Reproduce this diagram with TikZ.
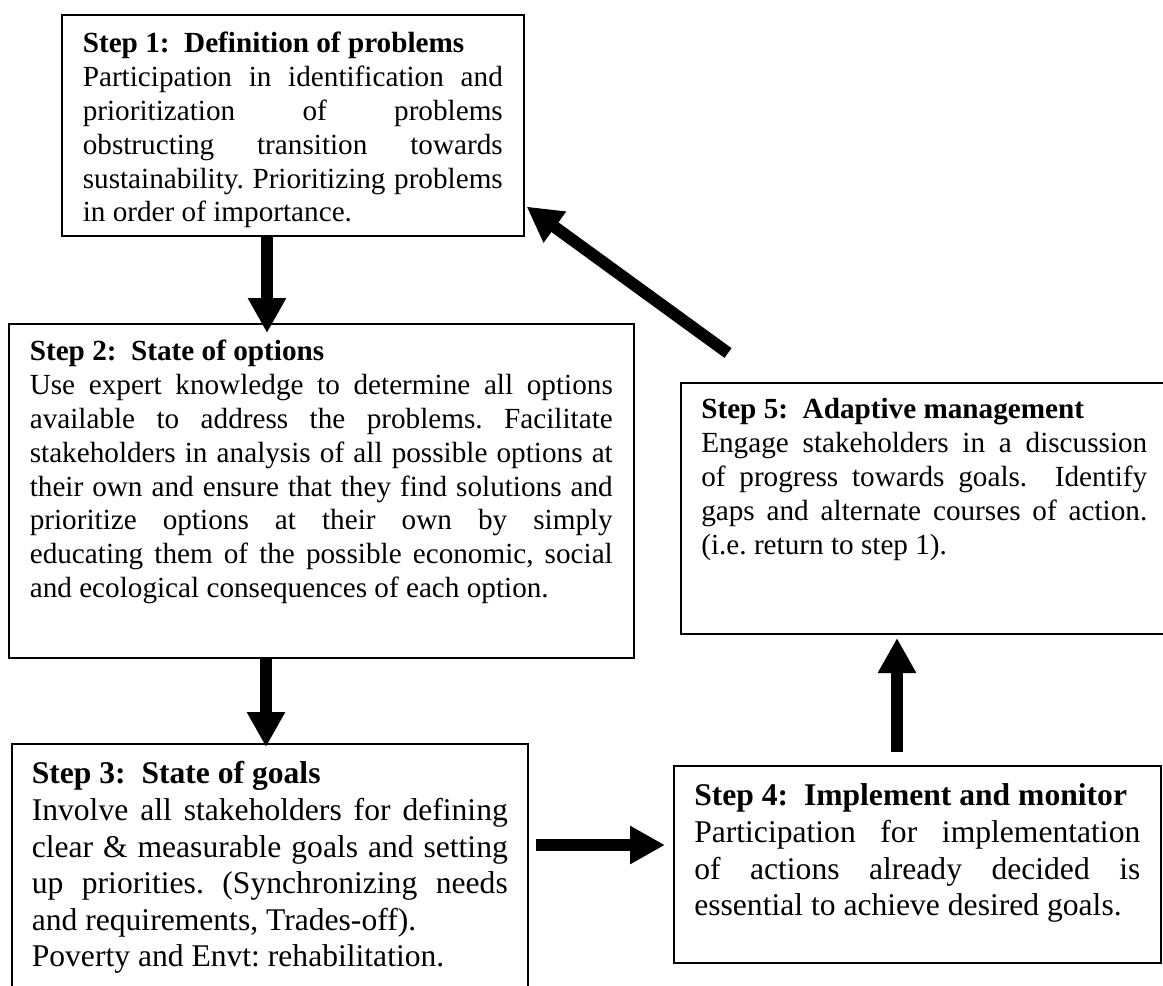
\documentclass[tikz,border=0pt]{standalone}
\usepackage{fontspec}
\setmainfont{Liberation Serif}
\usepackage{tikz}
\usetikzlibrary{arrows.meta,positioning}
\tolerance=10000
\hbadness=10000
\hyphenpenalty=10000
\exhyphenpenalty=10000
\frenchspacing

\begin{document}
\begin{tikzpicture}[x=1pt, y=-1pt,
  stepbox/.style={draw, line width=1.6pt, anchor=north west, align=justify,
    inner ysep=0pt, font=\fontsize{29.2}{33.8}\selectfont},
  bigstep/.style={stepbox, font=\fontsize{31.6}{36.6}\selectfont},
  bigarrow/.style={line width=12pt, -{Triangle[width=36pt,length=35pt]}}]
\useasboundingbox (0,0) rectangle (1163,986);
\node[stepbox, text width=420pt, inner xsep=21pt, text height=38pt, text depth=183pt] (s1) at (61,14)
  {\textbf{Step 1:\ \ Definition of problems}\\
   Participation in identification and\linebreak prioritization of problems\linebreak
   obstructing transition towards\linebreak sustainability. Prioritizing problems\linebreak
   in order of importance.};
\node[stepbox, text width=583pt, inner xsep=21pt, text height=37pt, text depth=297pt] (s2) at (8,323)
  {\textbf{Step 2:\ \ State of options}\\
   Use expert knowledge to determine all options\linebreak available to address the problems. Facilitate\linebreak
   stakeholders in analysis of all possible options at\linebreak their own and ensure that they find solutions and\linebreak
   prioritize options at their own by simply\linebreak educating them of the possible economic, social\linebreak
   and ecological consequences of each option.};
\node[bigstep, text width=476pt, inner xsep=20pt, text height=40pt, text depth=217pt] (s3) at (11,743)
  {\textbf{Step 3:\ \ State of goals}\\
   Involve all stakeholders for defining\linebreak clear \& measurable goals and setting\linebreak
   up priorities. (Synchronizing needs\linebreak and requirements, Trades-off).\\
   Poverty and Envt: rehabilitation.};
\node[bigstep, text width=446pt, inner xsep=20.5pt, text height=40pt, text depth=157pt] (s4) at (673,765)
  {\textbf{Step 4:\ \ Implement and monitor}\\
   Participation for implementation\linebreak of actions already decided is\linebreak
   essential to achieve desired goals.};
\node[stepbox, text width=446pt, inner xsep=20.5pt, text height=36pt, text depth=215pt] (s5) at (680,382)
  {\textbf{Step 5:\ \ Adaptive management}\\
   Engage stakeholders in a discussion\linebreak of progress towards goals.\ \ Identify\linebreak
   gaps and alternate courses of action.\linebreak (i.e. return to step 1).};

\coordinate (c12) at (267,333);
\coordinate (c23) at (266,747);
\coordinate (c34) at (536,845);
\coordinate (c45) at (897,638);
\coordinate (c51) at (728,353);
\draw[bigarrow] (s1.south -| c12) -- (c12);
\draw[bigarrow] (s2.south -| c23) -- (c23);
\draw[bigarrow, shorten >=8pt] (c34) -- (s4.west |- c34);
\draw[bigarrow, shorten <=13pt] (s4.north -| c45) -- (c45);
\draw[bigarrow] (c51) -- ([shift={(2,-30)}]s1.south east);
\end{tikzpicture}
\end{document}
